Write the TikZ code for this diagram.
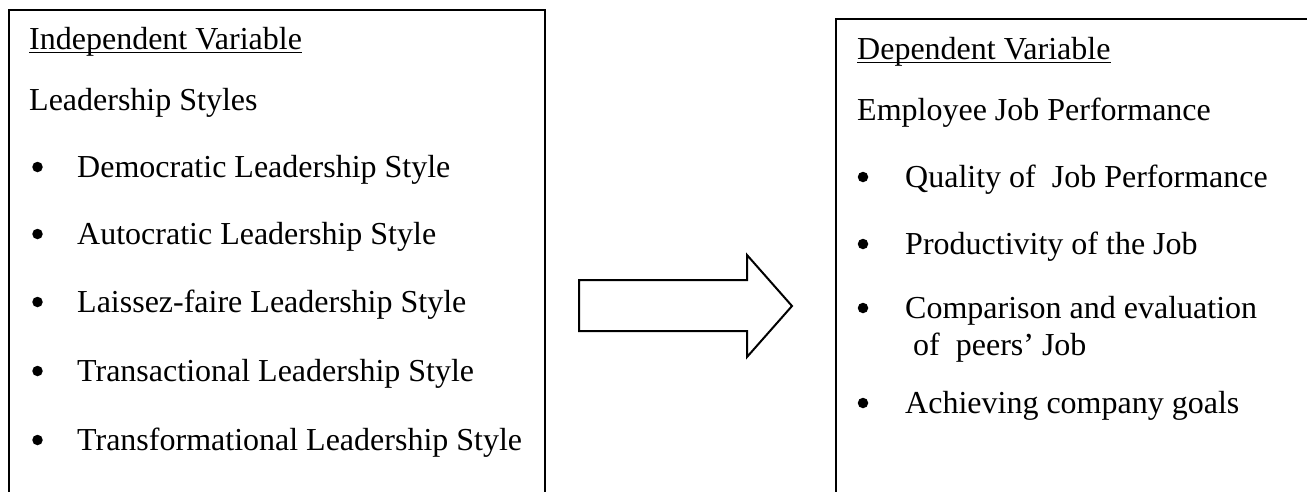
\documentclass[tikz,border=0pt]{standalone}
\usepackage{fontspec}
\setmainfont{Liberation Serif}
\begin{document}
\begin{tikzpicture}[x=1pt,y=-1pt,
  txt/.style={anchor=base west,inner sep=0pt,font=\fontsize{32}{38}\selectfont},
  ul/.style={line width=1.8pt},
  frame/.style={line width=2pt},
  bul/.style={circle,fill=black,inner sep=0pt,minimum size=10.5pt},
  blockarrow/.style={line width=2pt,line join=miter}]
\useasboundingbox (0,0) rectangle (1307,491);
\clip (0,0) rectangle (1307,491);
% frames
\coordinate (lbl) at (9,500);
\coordinate (ltl) at (9,10);
\coordinate (ltr) at (545,10);
\coordinate (lbr) at (545,500);
\draw[frame] (lbl) -- (ltl) -- (ltr) -- (lbr);
\coordinate (rbl) at (836,500);
\coordinate (rtl) at (836,19);
\coordinate (rtr) at (1320,19);
\draw[frame] (rbl) -- (rtl) -- (rtr);
% left texts
\node[txt] (iv) at (29,49) {Independent Variable};
\draw[ul] ([yshift=-3.5pt]iv.base west) -- ([yshift=-3.5pt]iv.base east);
\node[txt] (ls) at (29,110) {Leadership Styles};
\foreach \t/\y/\n in {Democratic Leadership Style/177/l1,Autocratic Leadership Style/244/l2,Laissez-faire Leadership Style/312/l3,Transactional Leadership Style/381/l4,Transformational Leadership Style/450/l5}{
  \node[txt] (\n) at (77,\y) {\t};
  \node[bul] (\n b) at (37.5,\y-10) {};
}
% right texts
\node[txt] (dv) at (857,59) {Dependent Variable};
\draw[ul] ([yshift=-3.5pt]dv.base west) -- ([yshift=-3.5pt]dv.base east);
\node[txt] (ejp) at (857,120) {Employee Job Performance};
\node[txt] (r1) at (905,187) {Quality of\ \ Job Performance};
\node[bul] (r1b) at (863,177) {};
\node[txt] (r2) at (905,254) {Productivity of the Job};
\node[bul] (r2b) at (863,244) {};
\node[txt] (r3) at (905,318) {Comparison and evaluation};
\node[bul] (r3b) at (863,308) {};
\node[txt] (r3c) at (905,355) {\ of\ \ peers’ Job};
\node[txt] (r4) at (905,413) {Achieving company goals};
\node[bul] (r4b) at (863,403) {};
% block arrow
\coordinate (a1) at (579,280);
\coordinate (a2) at (747,280);
\coordinate (a3) at (747,255);
\coordinate (tip) at (792,306);
\coordinate (a5) at (747,357);
\coordinate (a6) at (747,331);
\coordinate (a7) at (579,331);
\draw[blockarrow] (a1) -- (a2) -- (a3) -- (tip) -- (a5) -- (a6) -- (a7) -- cycle;
\end{tikzpicture}
\end{document}
